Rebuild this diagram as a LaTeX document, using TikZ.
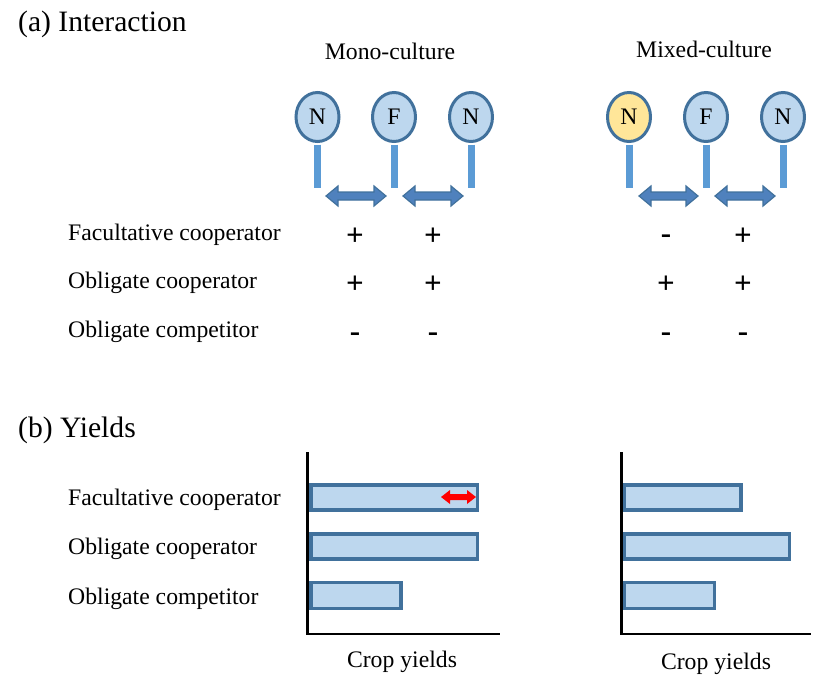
\documentclass[tikz,border=0pt]{standalone}
\usepackage{fontspec}
\setmainfont{Liberation Serif}
\usetikzlibrary{shapes.geometric}
\definecolor{cellfill}{HTML}{BDD7EE}
\definecolor{cellline}{HTML}{41719C}
\definecolor{stemcol}{HTML}{5B9BD5}
\definecolor{yellowfill}{HTML}{FFE699}
\definecolor{arrowfill}{HTML}{4F81BD}
\tikzset{
  lbl/.style={anchor=base west, inner sep=0pt, font=\fontsize{23.7}{28}\selectfont},
  ctr/.style={anchor=base, inner sep=0pt, font=\fontsize{23.7}{28}\selectfont},
  title/.style={anchor=base west, inner sep=0pt, font=\fontsize{29.6}{34}\selectfont},
  sign/.style={anchor=center, inner sep=0pt, font=\fontsize{31}{34}\selectfont\bfseries},
  cell/.style={ellipse, draw=cellline, line width=3pt, fill=cellfill, minimum width=43pt, minimum height=49pt, inner sep=0pt, font=\fontsize{23.7}{28}\selectfont},
  ycell/.style={cell, fill=yellowfill},
  stem/.style={draw=stemcol, line width=7pt},
  bar/.style={draw=cellline, fill=cellfill, line width=3.3pt},
  axis/.style={draw=black, line width=2.5pt},
  dbl/.style={fill=arrowfill, draw=cellline, line width=1.2pt, line join=miter},
}
\newcommand{\dblarr}[3]{% x1 x2 y
  \path[dbl] (#1,#3) -- ++(12,-10) -- ++(0,6) -- (#2-12,#3-4) -- ++(0,-6) -- (#2,#3) -- ++(-12,10) -- ++(0,-6) -- (#1+12,#3+4) -- ++(0,6) -- cycle;}
\begin{document}
\begin{tikzpicture}[x=1pt,y=-1pt]
\useasboundingbox (0,0) rectangle (829,688);
% titles
\node[title] (ta) at (18,31) {(a) Interaction};
\node[title] (tb) at (18,437) {(b) Yields};
\node[ctr] (mono) at (390,59) {Mono-culture};
\node[ctr] (mixed) at (704,57) {Mixed-culture};
% cells
\node[cell] (m1) at (317.5,117) {N};
\node[cell] (m2) at (394,117) {F};
\node[cell] (m3) at (471,117) {N};
\node[ycell] (x1) at (629,117) {N};
\node[cell] (x2) at (706,117) {F};
\node[cell] (x3) at (783,117) {N};
\foreach \n in {m1,m2,m3,x1,x2,x3}{
  \coordinate (\n e) at ([yshift=-45pt]\n.south);
  \draw[stem] ([yshift=-1.5pt]\n.south) -- (\n e);
}
% double arrows
\dblarr{326}{386}{196}
\dblarr{403}{463}{196}
\dblarr{639}{698}{196}
\dblarr{715}{775}{196}
% row labels (a)
\node[lbl] (a1) at (68,240) {Facultative cooperator};
\node[lbl] (a2) at (68,288) {Obligate cooperator};
\node[lbl] (a3) at (68,337) {Obligate competitor};
% signs
\node[sign] (s11) at (355,237) {+};
\node[sign] (s12) at (433,237) {+};
\node[sign] (s21) at (355,285) {+};
\node[sign] (s22) at (433,285) {+};
\node[sign] (s31) at (355,337) {-};
\node[sign] (s32) at (433,337) {-};
\node[sign] (t11) at (666,239) {-};
\node[sign] (t12) at (743,237) {+};
\node[sign] (t21) at (666,285) {+};
\node[sign] (t22) at (743,285) {+};
\node[sign] (t31) at (666,337) {-};
\node[sign] (t32) at (743,337) {-};
% row labels (b)
\node[lbl] (b1) at (68,505) {Facultative cooperator};
\node[lbl] (b2) at (68,554) {Obligate cooperator};
\node[lbl] (b3) at (68,604) {Obligate competitor};
% left chart
\draw[axis] (307.5,452) -- (307.5,635);
\draw[axis] (306,634) -- (500,634);
\draw[bar] (311,485) rectangle (477.5,510);
\draw[bar] (311,534) rectangle (477.5,559);
\draw[bar] (311,582.7) rectangle (401,608.3);
\path[fill=red] (441,497) -- ++(9,-7) -- ++(0,4) -- (467,494) -- ++(0,-4) -- (476,497) -- ++(-9,7) -- ++(0,-4) -- (450,500) -- ++(0,4) -- cycle;
\node[ctr] (cy1) at (402,667) {Crop yields};
% right chart
\draw[axis] (621.5,452) -- (621.5,635);
\draw[axis] (620,634) -- (811,634);
\draw[bar] (624.5,485) rectangle (741,510);
\draw[bar] (624.5,534) rectangle (789.3,559);
\draw[bar] (624.5,582.7) rectangle (714.3,608.3);
\node[ctr] (cy2) at (716,669) {Crop yields};
\end{tikzpicture}
\end{document}
